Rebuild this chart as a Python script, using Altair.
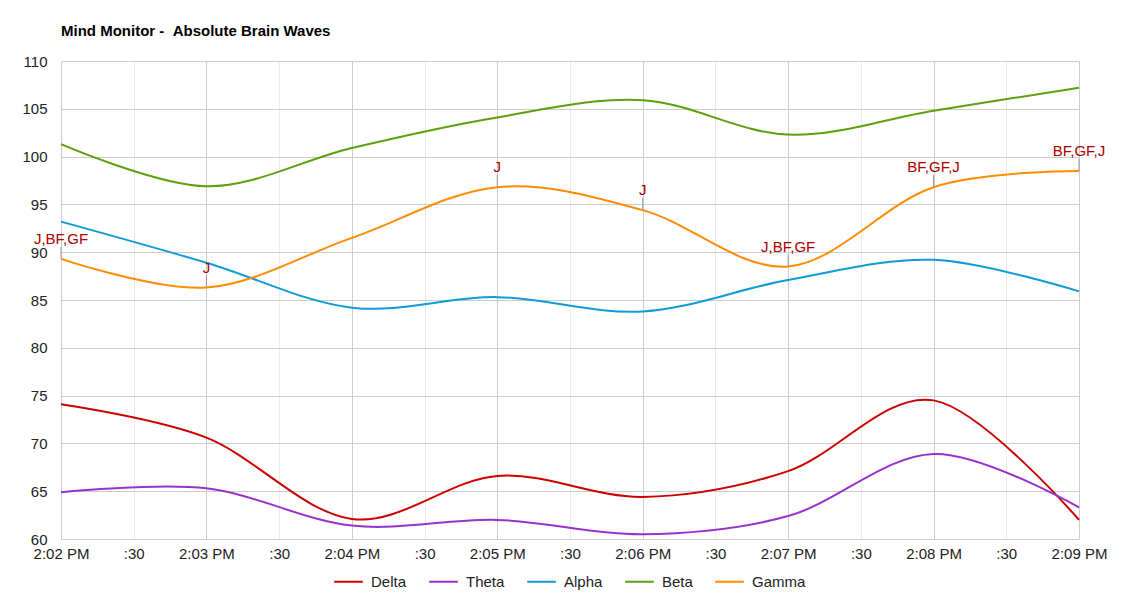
import altair as alt
import pandas as pd

# ---- data ----
times = ["14:02", "14:03", "14:04", "14:05", "14:06", "14:07", "14:08", "14:09"]
series_names = ["Delta", "Theta", "Alpha", "Beta", "Gamma"]
delta = [74.1, 70.6, 62.1, 66.6, 64.4, 67.1, 74.5, 62.0]
theta = [64.9, 65.3, 61.4, 62.0, 60.5, 62.4, 68.9, 63.3]
alpha = [93.2, 88.9, 84.2, 85.3, 83.8, 87.1, 89.2, 85.9]
beta = [101.3, 96.9, 100.9, 104.1, 105.9, 102.3, 104.8, 107.2]
gamma = [89.3, 86.3, 91.5, 96.8, 94.4, 88.5, 96.8, 98.5]
colors = ["#cc0000", "#9932cc", "#0f9bd7", "#5f9e0c", "#ff8c00"]

ann_times = ["14:02", "14:03", "14:05", "14:06", "14:07", "14:08", "14:09"]
ann_labels = ["J,BF,GF", "J", "J", "J", "J,BF,GF", "BF,GF,J", "BF,GF,J"]

FONT = "Liberation Sans"
FS = 15

def ts(t):
    return f"2024-01-01T{t}:00"

rows = []
for name, vals in zip(series_names, [delta, theta, alpha, beta, gamma]):
    for t, v in zip(times, vals):
        rows.append({"time": ts(t), "series": name, "value": v})
df = pd.DataFrame(rows)

gmap = dict(zip(times, gamma))
ann = pd.DataFrame({
    "time": [ts(t) for t in ann_times],
    "value": [gmap[t] for t in ann_times],
    "label": ann_labels,
})

x_values = []
for m in range(2, 10):
    for s in (0, 15, 30, 45):
        if m == 9 and s > 0:
            break
        x_values.append(alt.DateTime(year=2024, month=1, date=1, hours=14, minutes=m, seconds=s))

y_values = [60 + 2.5 * i for i in range(21)]

x_scale = alt.Scale(domain=[alt.DateTime(year=2024, month=1, date=1, hours=14, minutes=2),
                            alt.DateTime(year=2024, month=1, date=1, hours=14, minutes=9)], nice=False)
y_scale = alt.Scale(domain=[60, 110], nice=False, zero=False)

x_axis = alt.Axis(
    values=x_values, title=None, ticks=False, domain=False,
    labelExpr="seconds(datum.value) == 30 ? ':30' : (seconds(datum.value) == 0 ? timeFormat(datum.value, '%-I:%M %p') : '')",
    labelOverlap=False, labelFlush=False, labelBound=False,
    labelFontSize=FS, labelFont=FONT, labelColor="#222222", labelPadding=7,
    gridColor={"condition": {"test": "seconds(datum.value) == 0", "value": "#cccccc"}, "value": "#ebebeb"},
    gridWidth=1,
)
y_axis = alt.Axis(
    values=y_values, title=None, ticks=False, domain=False,
    labelExpr="datum.value % 5 == 0 ? format(datum.value, 'd') : ''",
    labelOverlap=False, labelFlush=False, labelBound=False,
    labelFontSize=FS, labelFont=FONT, labelColor="#222222", labelPadding=14,
    gridColor={"condition": {"test": "datum.value % 5 == 0", "value": "#cccccc"}, "value": "#ebebeb"},
    gridWidth=1,
)

lines = alt.Chart(df).mark_line(interpolate="cardinal", strokeWidth=2).encode(
    x=alt.X("time:T", scale=x_scale, axis=x_axis),
    y=alt.Y("value:Q", scale=y_scale, axis=y_axis),
    color=alt.Color(
        "series:N",
        scale=alt.Scale(domain=series_names, range=colors),
        sort=series_names,
        legend=alt.Legend(
            orient="none", legendX=272, legendY=505, direction="horizontal",
            title=None, symbolType="stroke", symbolSize=820, symbolStrokeWidth=2,
            labelFontSize=FS, labelFont=FONT, labelColor="#222222", labelOffset=7,
            columnPadding=18, padding=0,
        ),
    ),
    detail="series:N",
)

stems = alt.Chart(ann).mark_rule(color="#999999", strokeWidth=1, y2Offset=-12).encode(
    x=alt.X("time:T", scale=x_scale),
    y=alt.Y("value:Q", scale=y_scale),
    y2="value:Q",
)

texts = alt.Chart(ann).mark_text(
    dy=-15, baseline="alphabetic", align="center", fontSize=FS, font=FONT, color="#aa0000"
).encode(
    x=alt.X("time:T", scale=x_scale),
    y=alt.Y("value:Q", scale=y_scale),
    text="label:N",
)

chart = alt.layer(lines, stems, texts).properties(
    width=1018, height=478,
    autosize=alt.AutoSizeParams(type="none"),
    padding={"left": 61, "top": 61, "right": 61, "bottom": 61},
    title=alt.TitleParams(
        "Mind Monitor - \u00a0Absolute Brain Waves", anchor="start", frame="group",
        fontSize=15, fontWeight="bold", font=FONT, color="#000000", offset=15,
    ),
).configure_view(stroke=None)

chart.save("out.html", embed_options={"renderer": "svg", "actions": False})
